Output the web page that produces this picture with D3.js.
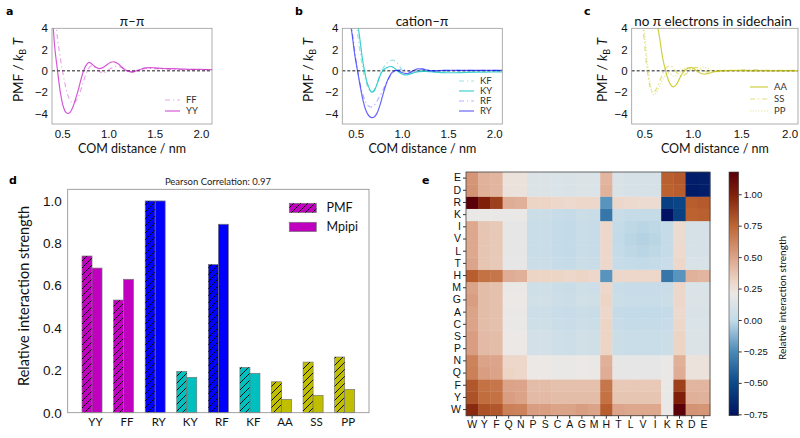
<!DOCTYPE html>
<html><head><meta charset="utf-8">
<script src="https://cdn.jsdelivr.net/npm/d3@7"></script>
<style>
body{margin:0;background:#fff;}
svg{display:block;font-family:Lato,"DejaVu Sans",sans-serif;}
</style></head><body>
<svg id="c" width="800" height="438"></svg>
<script>
// ---------- DATA ----------
// panel a (pi-pi)
const curveFF = [[0.43,4.6],[0.45,3.0],[0.48,1.2],[0.51,-0.3],[0.54,-1.6],[0.57,-2.5],[0.60,-2.95],[0.63,-3.0],[0.66,-2.7],[0.69,-2.1],[0.72,-1.3],[0.75,-0.5],[0.78,0.15],[0.81,0.45],[0.84,0.45],[0.87,0.2],[0.91,-0.1],[0.95,-0.2],[0.99,0.0],[1.03,0.25],[1.08,0.42],[1.12,0.38],[1.16,0.2],[1.20,0.0],[1.25,-0.12],[1.30,-0.05],[1.36,0.12],[1.42,0.22],[1.48,0.22],[1.55,0.18],[1.65,0.14],[1.80,0.12],[1.95,0.1],[2.12,0.08]];
const curveYY = [[0.40,4.6],[0.42,2.2],[0.45,0.0],[0.48,-2.0],[0.51,-3.3],[0.54,-3.9],[0.565,-4.0],[0.59,-3.85],[0.62,-3.3],[0.65,-2.5],[0.68,-1.6],[0.71,-0.6],[0.74,0.2],[0.77,0.65],[0.79,0.8],[0.82,0.65],[0.86,0.35],[0.90,0.2],[0.94,0.3],[0.98,0.55],[1.02,0.78],[1.06,0.85],[1.10,0.7],[1.14,0.4],[1.18,0.1],[1.22,-0.05],[1.26,-0.1],[1.30,0.0],[1.35,0.15],[1.40,0.27],[1.45,0.3],[1.50,0.28],[1.60,0.22],[1.70,0.2],[1.80,0.17],[1.90,0.14],[2.00,0.13],[2.12,0.12]];
// panel b (cation-pi)
const curveKF = [[0.50,4.6],[0.525,3.2],[0.55,1.6],[0.575,0.3],[0.60,-0.7],[0.63,-1.5],[0.66,-1.95],[0.69,-1.9],[0.72,-1.4],[0.75,-0.7],[0.78,0.0],[0.82,0.55],[0.86,0.88],[0.90,1.0],[0.93,0.9],[0.97,0.5],[1.00,0.1],[1.04,-0.2],[1.08,-0.3],[1.12,-0.2],[1.18,0.0],[1.25,0.05],[1.35,0.0],[1.5,-0.05],[1.7,0.0],[2.1,0.0]];
const curveKY = [[0.52,4.6],[0.545,3.0],[0.57,1.3],[0.595,0.0],[0.62,-1.0],[0.645,-1.6],[0.67,-2.0],[0.695,-1.95],[0.72,-1.5],[0.75,-0.8],[0.78,-0.15],[0.82,0.22],[0.86,0.38],[0.89,0.4],[0.92,0.25],[0.95,0.0],[0.99,-0.25],[1.03,-0.38],[1.07,-0.35],[1.12,-0.2],[1.18,-0.08],[1.25,-0.05],[1.35,-0.12],[1.5,-0.18],[1.7,-0.15],[1.9,-0.12],[2.1,-0.1]];
const curveRF = [[0.45,4.6],[0.48,2.5],[0.51,0.6],[0.54,-0.9],[0.57,-2.0],[0.60,-2.8],[0.63,-3.25],[0.66,-3.4],[0.69,-3.3],[0.72,-3.0],[0.76,-2.4],[0.80,-1.7],[0.84,-1.0],[0.88,-0.45],[0.92,-0.1],[0.96,0.1],[1.00,0.15],[1.04,0.05],[1.08,-0.1],[1.12,-0.1],[1.17,0.05],[1.22,0.15],[1.28,0.1],[1.35,0.02],[1.5,0.05],[1.7,0.05],[2.1,0.05]];
const curveRY = [[0.44,4.6],[0.46,3.5],[0.49,1.5],[0.52,0.0],[0.55,-1.5],[0.58,-2.8],[0.61,-3.7],[0.64,-4.2],[0.67,-4.4],[0.70,-4.35],[0.73,-4.0],[0.76,-3.3],[0.79,-2.4],[0.82,-1.5],[0.85,-0.8],[0.88,-0.3],[0.91,-0.05],[0.94,0.05],[0.97,0.0],[1.00,-0.15],[1.04,-0.25],[1.08,-0.2],[1.12,0.0],[1.17,0.18],[1.22,0.18],[1.28,0.05],[1.35,0.0],[1.45,0.05],[1.6,0.05],[1.8,0.05],[2.1,0.05]];
// panel c (no pi electrons)
const curveAA = [[0.63,4.6],[0.66,3.0],[0.69,1.2],[0.72,0.0],[0.75,-0.9],[0.78,-1.4],[0.80,-1.5],[0.83,-1.3],[0.86,-0.8],[0.89,-0.3],[0.92,0.05],[0.96,0.28],[0.99,0.3],[1.02,0.15],[1.05,-0.05],[1.09,-0.25],[1.13,-0.3],[1.18,-0.2],[1.24,-0.05],[1.3,0.0],[1.4,0.02],[1.6,0.0],[2.09,0.0]];
const curveSS = [[0.48,4.6],[0.50,2.8],[0.52,0.8],[0.54,-0.6],[0.56,-1.5],[0.585,-2.0],[0.61,-1.9],[0.64,-1.4],[0.67,-0.7],[0.70,-0.1],[0.73,0.3],[0.76,0.45],[0.79,0.35],[0.82,0.0],[0.86,-0.4],[0.89,-0.5],[0.93,-0.3],[0.97,0.05],[1.01,0.3],[1.05,0.3],[1.09,0.1],[1.14,-0.1],[1.2,-0.05],[1.3,0.05],[1.45,0.05],[1.6,0.1],[1.8,0.05],[2.09,0.05]];
const curvePP = [[0.49,4.6],[0.51,2.8],[0.53,0.9],[0.55,-0.6],[0.57,-1.6],[0.595,-2.25],[0.62,-2.1],[0.65,-1.6],[0.68,-1.0],[0.71,-0.5],[0.74,-0.2],[0.77,-0.3],[0.80,-0.5],[0.83,-0.45],[0.87,-0.1],[0.91,0.2],[0.95,0.3],[0.99,0.15],[1.03,0.05],[1.07,0.2],[1.11,0.35],[1.15,0.25],[1.2,0.0],[1.25,-0.1],[1.35,0.0],[1.5,0.1],[1.6,0.05],[2.09,0.02]];
const pmfXTicks = [0.5,1.0,1.5,2.0];
const pmfYTicks = [-4,-2,0,2,4];

// panel d (bars)
const barCats = ["YY","FF","RY","KY","RF","KF","AA","SS","PP"];
const pmfStrength   = [0.740,0.532,1.000,0.195,0.700,0.214,0.146,0.239,0.263];
const mpipiStrength = [0.683,0.630,1.000,0.167,0.890,0.186,0.063,0.082,0.110];
const barYTicks = [0.0,0.2,0.4,0.6,0.8,1.0];

// panel e (heatmap) -- columns left->right, rows bottom->top
const residues = ["W","Y","F","Q","N","P","S","C","A","G","M","H","T","L","V","I","K","R","D","E"];
const strengthMatrix = [
 [0.96,0.82,0.80,0.64,0.63,0.52,0.52,0.50,0.50,0.52,0.50,0.78,0.49,0.48,0.48,0.48,0.20,1.18,0.56,0.55],
 [0.82,0.72,0.70,0.52,0.50,0.41,0.41,0.40,0.40,0.40,0.40,0.70,0.37,0.37,0.37,0.37,0.20,1.00,0.45,0.44],
 [0.80,0.70,0.68,0.50,0.49,0.40,0.40,0.39,0.39,0.39,0.39,0.68,0.36,0.36,0.36,0.36,0.20,0.88,0.43,0.43],
 [0.64,0.52,0.50,0.31,0.30,0.21,0.21,0.20,0.20,0.21,0.20,0.46,0.18,0.18,0.18,0.18,0.20,0.46,0.24,0.24],
 [0.63,0.50,0.49,0.30,0.30,0.21,0.21,0.20,0.20,0.21,0.20,0.45,0.18,0.18,0.18,0.18,0.20,0.45,0.24,0.24],
 [0.52,0.41,0.40,0.21,0.21,0.08,0.08,0.06,0.05,0.07,0.06,0.31,0.04,0.03,0.03,0.03,0.04,0.31,0.13,0.13],
 [0.52,0.41,0.40,0.21,0.21,0.08,0.08,0.06,0.05,0.07,0.06,0.31,0.04,0.03,0.03,0.03,0.04,0.31,0.13,0.13],
 [0.50,0.40,0.39,0.20,0.20,0.06,0.06,0.04,0.03,0.05,0.04,0.31,0.02,0.01,0.01,0.01,0.02,0.30,0.12,0.12],
 [0.50,0.40,0.39,0.20,0.20,0.05,0.05,0.03,0.02,0.04,0.03,0.30,0.01,0.00,0.00,0.00,0.01,0.29,0.11,0.11],
 [0.52,0.40,0.39,0.21,0.21,0.07,0.07,0.05,0.04,0.07,0.06,0.31,0.04,0.03,0.03,0.03,0.04,0.30,0.13,0.13],
 [0.50,0.40,0.39,0.20,0.20,0.06,0.06,0.04,0.03,0.06,0.05,0.30,0.03,0.02,0.02,0.02,0.03,0.30,0.12,0.12],
 [0.78,0.70,0.68,0.46,0.45,0.31,0.31,0.31,0.30,0.31,0.30,-0.22,0.30,0.30,0.30,0.30,-0.33,-0.22,0.44,0.43],
 [0.49,0.37,0.36,0.18,0.18,0.04,0.04,0.02,0.01,0.04,0.03,0.30,0.02,0.01,0.00,0.01,0.03,0.30,0.11,0.11],
 [0.48,0.37,0.36,0.18,0.18,0.03,0.03,0.01,0.00,0.03,0.02,0.30,0.01,-0.01,-0.02,-0.01,0.01,0.29,0.10,0.10],
 [0.48,0.37,0.36,0.18,0.18,0.03,0.03,0.01,0.00,0.03,0.02,0.30,0.00,-0.02,-0.03,-0.02,0.01,0.28,0.10,0.10],
 [0.48,0.37,0.36,0.18,0.18,0.03,0.03,0.01,0.00,0.03,0.02,0.30,0.01,-0.01,-0.02,-0.01,0.01,0.28,0.10,0.10],
 [0.20,0.20,0.20,0.20,0.20,0.04,0.04,0.02,0.01,0.04,0.03,-0.33,0.03,0.01,0.01,0.01,-0.76,-0.55,0.76,0.77],
 [1.18,1.00,0.88,0.46,0.45,0.31,0.31,0.30,0.29,0.30,0.30,-0.22,0.30,0.29,0.28,0.28,-0.55,-0.52,0.78,0.79],
 [0.56,0.45,0.43,0.24,0.24,0.13,0.13,0.12,0.11,0.13,0.12,0.44,0.11,0.10,0.10,0.10,0.76,0.78,-0.72,-0.71],
 [0.55,0.44,0.43,0.24,0.24,0.13,0.13,0.12,0.11,0.13,0.12,0.43,0.11,0.10,0.10,0.10,0.77,0.79,-0.71,-0.70]
];
const cbarTicks = [-0.75,-0.5,-0.25,0,0.25,0.5,0.75,1.0];

// ---------- STYLE ----------
const MAG="#bf00bf", BLUE="#0000ff", CYAN="#00bfbf", OLIVE="#bfbf00";
const barColors = [MAG,MAG,BLUE,CYAN,BLUE,CYAN,OLIVE,OLIVE,OLIVE];
const vikT = [0,0.134,0.263,0.392,0.5,0.55,0.65,0.78,0.907,1];
const vikC = ["#001261","#0b4a88","#4a8ab8","#c3dbe8","#ebe8e6","#edd6c8","#dba388","#be6533","#80200a","#590008"];
const CMIN=-0.761, CMAX=1.177;

const svg = d3.select("#c");
const minus = s => String(s).replace("-","\u2212");
const defs = svg.append("defs");

// ---------- LINE PANELS ----------
function linePanel(cfg){
  const x = d3.scaleLinear().domain(cfg.xd).range(cfg.xr);
  const y = d3.scaleLinear().domain([-5,4]).range([124,28.3]);
  const g = svg.append("g");
  const cid = "clip"+cfg.id;
  defs.append("clipPath").attr("id",cid).append("rect")
    .attr("x",cfg.xr[0]).attr("y",28.3).attr("width",cfg.xr[1]-cfg.xr[0]).attr("height",124-28.3);
  g.append("line").attr("x1",cfg.xr[0]).attr("x2",cfg.xr[1]).attr("y1",y(0)).attr("y2",y(0))
    .attr("stroke","#000").attr("stroke-width",0.9).attr("stroke-dasharray","3,2");
  const line = d3.line().x(d=>x(d[0])).y(d=>y(d[1])).curve(d3.curveCatmullRom.alpha(0.5));
  const cg = g.append("g").attr("clip-path",`url(#${cid})`);
  cfg.curves.forEach(c=>{
    cg.append("path").attr("d",line(c.data)).attr("fill","none")
      .attr("stroke",c.color).attr("stroke-opacity",c.op).attr("stroke-width",c.w||1.2)
      .attr("stroke-dasharray",c.dash||null);
  });
  g.append("rect").attr("x",cfg.xr[0]).attr("y",28.3).attr("width",cfg.xr[1]-cfg.xr[0]).attr("height",124-28.3)
    .attr("fill","none").attr("stroke","#9a9a9a").attr("stroke-width",0.8);
  const ax = g.append("g").attr("transform","translate(0,124)")
    .call(d3.axisBottom(x).tickValues(pmfXTicks).tickSize(0).tickPadding(6).tickFormat(d3.format(".1f")));
  ax.select(".domain").remove();
  ax.selectAll("text").attr("font-size",11.5).attr("fill","#111").attr("font-family","inherit");
  const ay = g.append("g").attr("transform",`translate(${cfg.xr[0]},0)`)
    .call(d3.axisLeft(y).tickValues(pmfYTicks).tickSize(0).tickPadding(4).tickFormat(d=>minus(d)));
  ay.select(".domain").remove();
  ay.selectAll("text").attr("font-size",11.5).attr("fill","#111").attr("font-family","inherit");
  g.append("text").attr("x",(cfg.xr[0]+cfg.xr[1])/2).attr("y",152.5).attr("text-anchor","middle")
    .attr("font-size",12.5).attr("fill","#111").text("COM distance / nm");
  const yl = g.append("text").attr("transform",`translate(${cfg.ylx},70) rotate(-90)`)
    .attr("text-anchor","middle").attr("font-size",13.5).attr("fill","#111");
  yl.append("tspan").text("PMF / ");
  yl.append("tspan").attr("font-style","italic").text("k");
  yl.append("tspan").attr("font-size",9).attr("dy",3).text("B");
  yl.append("tspan").attr("dy",-3).text(" ");
  yl.append("tspan").attr("font-style","italic").text("T");
  g.append("text").attr("x",cfg.tx).attr("y",26).attr("text-anchor","middle")
    .attr("font-size",13.5).attr("fill","#111").text(cfg.title);
  g.append("text").attr("x",cfg.lx).attr("y",15).attr("font-size",11).attr("font-weight","bold")
    .attr("font-family","DejaVu Sans").text(cfg.label);
  cfg.curves.forEach((c,i)=>{
    const ly = cfg.legY[i];
    g.append("line").attr("x1",cfg.legX).attr("x2",cfg.legX+cfg.legW).attr("y1",ly).attr("y2",ly)
      .attr("stroke",c.color).attr("stroke-opacity",c.op).attr("stroke-width",c.w||1.2)
      .attr("stroke-dasharray",c.dash||null);
    g.append("text").attr("x",cfg.legX+cfg.legW+6).attr("y",ly+3.3).attr("font-size",9.5)
      .attr("fill","#333").text(c.name);
  });
}
const DASHDOT="5,3,1.2,3", DOT="1.2,1.6";
linePanel({id:"a",xd:[0.39,2.12],xr:[52,212],title:"\u03c0\u2013\u03c0",tx:132,ylx:23,lx:6,label:"a",
  legX:165,legW:15,legY:[100,111],
  curves:[{name:"FF",data:curveFF,color:MAG,op:0.35,dash:DASHDOT},
          {name:"YY",data:curveYY,color:MAG,op:0.65}]});
linePanel({id:"b",xd:[0.355,2.087],xr:[342.3,502.3],title:"cation\u2013\u03c0",tx:422,ylx:313,lx:295,label:"b",
  legX:459,legW:15,legY:[81,91,101,111],
  curves:[{name:"KF",data:curveKF,color:CYAN,op:0.4,dash:DASHDOT},
          {name:"KY",data:curveKY,color:CYAN,op:0.75},
          {name:"RF",data:curveRF,color:BLUE,op:0.3,dash:DASHDOT},
          {name:"RY",data:curveRY,color:BLUE,op:0.6}]});
linePanel({id:"c",xd:[0.37,2.087],xr:[631.7,798],title:"no \u03c0 electrons in sidechain",tx:713,ylx:607,lx:584,label:"c",
  legX:750,legW:18,legY:[87,99,111],
  curves:[{name:"AA",data:curveAA,color:OLIVE,op:0.75},
          {name:"SS",data:curveSS,color:OLIVE,op:0.5,dash:DASHDOT},
          {name:"PP",data:curvePP,color:OLIVE,op:0.4,dash:DOT}]});

// ---------- PANEL D ----------
(function(){
  const L=67.7,R=369,T=189.3,B=412.7;
  const x = d3.scaleBand().domain(barCats).range([L,R]).paddingInner(0).paddingOuter(0.27);
  const y = d3.scaleLinear().domain([0,1.055]).range([B,T]);
  const bw = 10;
  const pat = defs.append("pattern").attr("id","hatch").attr("patternUnits","userSpaceOnUse")
    .attr("width",7).attr("height",7);
  pat.append("path").attr("d","M-1,1 l2,-2 M0,7 l7,-7 M6,8 l2,-2").attr("stroke","#000").attr("stroke-width",0.9);
  const g = svg.append("g");
  barCats.forEach((c,i)=>{
    const cx = x(c)+x.bandwidth()/2;
    g.append("rect").attr("x",cx-bw).attr("y",y(pmfStrength[i])).attr("width",bw)
      .attr("height",B-y(pmfStrength[i])).attr("fill",barColors[i]).attr("stroke","#777").attr("stroke-width",0.7);
    g.append("rect").attr("x",cx-bw).attr("y",y(pmfStrength[i])).attr("width",bw)
      .attr("height",B-y(pmfStrength[i])).attr("fill","url(#hatch)");
    g.append("rect").attr("x",cx).attr("y",y(mpipiStrength[i])).attr("width",bw)
      .attr("height",B-y(mpipiStrength[i])).attr("fill",barColors[i]).attr("stroke","#777").attr("stroke-width",0.7);
    g.append("text").attr("x",cx+3.5).attr("y",425.5).attr("text-anchor","middle")
      .attr("font-size",11.5).attr("fill","#111").text(c);
  });
  g.append("rect").attr("x",L).attr("y",T).attr("width",R-L).attr("height",B-T)
    .attr("fill","none").attr("stroke","#8a8a8a").attr("stroke-width",0.8);
  const ay = g.append("g").attr("transform",`translate(${L},0)`)
    .call(d3.axisLeft(y).tickValues(barYTicks).tickSize(0).tickPadding(6).tickFormat(d3.format(".1f")));
  ay.select(".domain").remove();
  ay.selectAll("text").attr("font-size",13.5).attr("fill","#111").attr("font-family","inherit");
  g.append("text").attr("transform","translate(29,296) rotate(-90)").attr("text-anchor","middle")
    .attr("font-size",14.5).attr("fill","#111").text("Relative interaction strength");
  g.append("text").attr("x",218).attr("y",185).attr("text-anchor","middle").attr("font-size",9.5)
    .attr("fill","#222").text("Pearson Correlation: 0.97");
  g.append("text").attr("x",9).attr("y",184).attr("font-size",11).attr("font-weight","bold")
    .attr("font-family","DejaVu Sans").text("d");
  [["PMF",true,203.3],["Mpipi",false,222.3]].forEach(([n,h,yy])=>{
    g.append("rect").attr("x",289.3).attr("y",yy).attr("width",27).attr("height",9.3)
      .attr("fill",MAG).attr("stroke","#777").attr("stroke-width",0.7);
    if(h) g.append("rect").attr("x",289.3).attr("y",yy).attr("width",27).attr("height",9.3).attr("fill","url(#hatch)");
    g.append("text").attr("x",326.5).attr("y",yy+9).attr("font-size",12.5).attr("fill","#111").text(n);
  });
})();

// ---------- PANEL E ----------
(function(){
  const L=466,R=710,T=172,B=415.7;
  const x = d3.scaleBand().domain(residues).range([L,R]);
  const y = d3.scaleBand().domain(residues).range([B,T]);
  const color = d3.scaleLinear().domain(vikT.map(t=>CMIN+t*(CMAX-CMIN))).range(vikC).interpolate(d3.interpolateRgb).clamp(true);
  const g = svg.append("g");
  strengthMatrix.forEach((row,ri)=>{
    row.forEach((v,ci)=>{
      g.append("rect").attr("x",x(residues[ci])).attr("y",y(residues[ri]))
        .attr("width",x.bandwidth()+0.4).attr("height",y.bandwidth()+0.4).attr("fill",color(v));
    });
  });
  g.append("rect").attr("x",L).attr("y",T).attr("width",R-L).attr("height",B-T)
    .attr("fill","none").attr("stroke","#444").attr("stroke-width",0.8);
  const ax = g.append("g").attr("transform",`translate(0,${B})`)
    .call(d3.axisBottom(x).tickSize(3).tickPadding(2));
  ax.select(".domain").remove();
  ax.selectAll("line").attr("stroke","#333");
  ax.selectAll("text").attr("font-size",10.5).attr("fill","#111").attr("font-family","inherit");
  const ay = g.append("g").attr("transform",`translate(${L},0)`)
    .call(d3.axisLeft(y).tickSize(3).tickPadding(2));
  ay.select(".domain").remove();
  ay.selectAll("line").attr("stroke","#333");
  ay.selectAll("text").attr("font-size",10.5).attr("fill","#111").attr("font-family","inherit");
  g.append("text").attr("x",422).attr("y",184).attr("font-size",11).attr("font-weight","bold")
    .attr("font-family","DejaVu Sans").text("e");
  const cx0=729, cw=9.7;
  const cy = d3.scaleLinear().domain([CMIN,CMAX]).range([B,T]);
  const grad = defs.append("linearGradient").attr("id","cbar").attr("x1",0).attr("x2",0).attr("y1",1).attr("y2",0);
  vikT.forEach((t,i)=>grad.append("stop").attr("offset",t).attr("stop-color",vikC[i]));
  g.append("rect").attr("x",cx0).attr("y",T).attr("width",cw).attr("height",B-T).attr("fill","url(#cbar)")
    .attr("stroke","#444").attr("stroke-width",0.6);
  const ac = g.append("g").attr("transform",`translate(${cx0+cw},0)`)
    .call(d3.axisRight(cy).tickValues(cbarTicks).tickSize(3).tickPadding(2).tickFormat(d=>minus(d3.format(".2f")(d))));
  ac.select(".domain").remove();
  ac.selectAll("line").attr("stroke","#333");
  ac.selectAll("text").attr("font-size",9.5).attr("fill","#111").attr("font-family","inherit");
  g.append("text").attr("transform","translate(786,298) rotate(-90)").attr("text-anchor","middle")
    .attr("font-size",10).attr("fill","#111").text("Relative interaction strength");
})();
</script>
</body></html>
